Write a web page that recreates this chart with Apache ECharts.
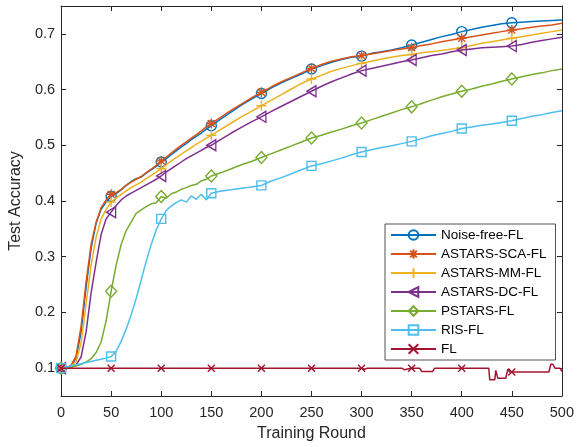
<!DOCTYPE html>
<html>
<head>
<meta charset="utf-8">
<script src="https://cdn.jsdelivr.net/npm/echarts@6/dist/echarts.min.js"></script>
<style>
html,body{margin:0;padding:0;background:#fff;}
#chart{width:577px;height:447px;}
</style>
</head>
<body>
<div id="chart"></div>
<script>
// ---- data ----
const rounds = [0,5,10,15,20,25,30,35,40,45,50,55,60,65,70,75,80,85,90,95,100,105,110,115,120,125,130,135,140,145,150,
  160,170,180,190,200,210,220,230,240,250,260,270,280,290,300,310,320,330,340,350,360,370,380,390,400,410,420,430,440,450,460,470,480,490,500];

const noiseFree = [0.100,0.101,0.104,0.118,0.165,0.245,0.315,0.360,0.385,0.398,0.408,0.413,0.420,0.428,0.435,0.440,0.443,0.450,0.456,0.462,0.470,0.476,0.483,0.490,0.497,0.503,0.510,0.516,0.522,0.529,0.535,
  0.548,0.560,0.572,0.583,0.593,0.603,0.612,0.620,0.628,0.637,0.643,0.649,0.654,0.658,0.660,0.665,0.668,0.671,0.675,0.680,0.685,0.690,0.695,0.699,0.704,0.708,0.712,0.715,0.718,0.720,0.721,0.722,0.723,0.724,0.725];

const astarsSca = [0.100,0.101,0.105,0.122,0.175,0.255,0.322,0.362,0.388,0.402,0.412,0.415,0.421,0.428,0.434,0.439,0.444,0.451,0.457,0.464,0.472,0.479,0.486,0.493,0.500,0.506,0.513,0.519,0.526,0.533,0.539,
  0.551,0.563,0.574,0.585,0.595,0.605,0.614,0.622,0.630,0.638,0.645,0.651,0.655,0.659,0.661,0.664,0.667,0.670,0.673,0.675,0.679,0.682,0.686,0.689,0.692,0.695,0.698,0.701,0.704,0.707,0.709,0.712,0.714,0.716,0.719];

const astarsMm = [0.100,0.100,0.103,0.112,0.145,0.215,0.285,0.335,0.368,0.385,0.398,0.405,0.412,0.418,0.424,0.429,0.434,0.440,0.446,0.452,0.458,0.465,0.472,0.478,0.484,0.490,0.496,0.502,0.507,0.513,0.518,
  0.529,0.540,0.551,0.561,0.571,0.581,0.591,0.601,0.611,0.619,0.626,0.633,0.638,0.643,0.647,0.651,0.655,0.658,0.661,0.663,0.666,0.668,0.670,0.673,0.675,0.679,0.683,0.686,0.689,0.692,0.695,0.698,0.701,0.704,0.707];

const astarsDc = [0.100,0.100,0.101,0.106,0.120,0.165,0.235,0.290,0.340,0.368,0.380,0.392,0.402,0.409,0.414,0.419,0.424,0.429,0.434,0.439,0.445,0.452,0.458,0.464,0.470,0.476,0.481,0.486,0.491,0.496,0.500,
  0.511,0.522,0.532,0.542,0.551,0.561,0.570,0.579,0.588,0.597,0.606,0.614,0.621,0.628,0.634,0.638,0.642,0.646,0.650,0.653,0.657,0.661,0.664,0.668,0.671,0.673,0.675,0.676,0.677,0.678,0.681,0.685,0.688,0.691,0.694];

const pstars = [0.100,0.100,0.102,0.104,0.107,0.111,0.117,0.128,0.147,0.185,0.238,0.285,0.322,0.347,0.362,0.378,0.384,0.390,0.395,0.397,0.408,0.405,0.413,0.416,0.421,0.424,0.428,0.430,0.436,0.439,0.445,
  0.451,0.458,0.465,0.471,0.478,0.485,0.492,0.499,0.506,0.513,0.518,0.524,0.529,0.535,0.540,0.546,0.552,0.558,0.564,0.569,0.575,0.581,0.587,0.592,0.597,0.601,0.606,0.610,0.615,0.619,0.623,0.627,0.630,0.634,0.637];

const risFl = [0.100,0.102,0.104,0.106,0.108,0.110,0.112,0.114,0.116,0.118,0.121,0.130,0.148,0.170,0.196,0.225,0.258,0.292,0.322,0.348,0.368,0.383,0.391,0.397,0.402,0.398,0.409,0.403,0.412,0.402,0.414,
  0.418,0.420,0.423,0.425,0.428,0.436,0.442,0.449,0.456,0.463,0.467,0.472,0.477,0.483,0.488,0.492,0.496,0.499,0.503,0.507,0.512,0.517,0.521,0.525,0.530,0.533,0.536,0.538,0.541,0.544,0.548,0.552,0.555,0.559,0.562];

const flRounds = [0,50,100,150,200,250,300,303,306,340,343,347,350,358,360,371,373,400,427,428,433,434,436,444,446,448,450,487,489,491,493,498,500];
const flAcc    = [0.100,0.100,0.100,0.100,0.100,0.100,0.100,0.098,0.100,0.100,0.097,0.099,0.100,0.100,0.094,0.094,0.100,0.100,0.100,0.079,0.079,0.096,0.082,0.082,0.098,0.093,0.093,0.093,0.107,0.107,0.100,0.100,0.094];

const seriesNames = ['Noise-free-FL','ASTARS-SCA-FL','ASTARS-MM-FL','ASTARS-DC-FL','PSTARS-FL','RIS-FL','FL'];
const xTicks = [0,50,100,150,200,250,300,350,400,450,500];
const yTicks = [0.1,0.2,0.3,0.4,0.5,0.6,0.7];

// ---- styling ----
const colors = ['#0072BD','#D95319','#EDB120','#7E2F8E','#77AC30','#4DBEEE','#A2142F'];
const symbols = [
  'circle',
  'path://M5,0 L5,10 M0,5 L10,5 M1.5,1.5 L8.5,8.5 M8.5,1.5 L1.5,8.5',
  'path://M5,0 L5,10 M0,5 L10,5',
  'path://M0,5 L10,0 L10,10 Z',
  'diamond',
  'rect',
  'path://M0,0 L10,10 M10,0 L0,10'
];
const sizes = [10,10,10,[9,11],[11,12],9,7];
const font = "'Liberation Sans', Arial, Helvetica, sans-serif";
const txt = '#262626';

function pair(xs, ys){ return xs.map((x,i)=>[x, ys[i]]); }
const allData = [noiseFree, astarsSca, astarsMm, astarsDc, pstars, risFl].map(v=>pair(rounds, v));
allData.push(pair(flRounds, flAcc));

const series = seriesNames.map((name, i) => ({
  name: name,
  type: 'line',
  data: allData[i],
  color: colors[i],
  symbol: symbols[i],
  showSymbol: true,
  showAllSymbol: true,
  symbolKeepAspect: false,
  symbolSize: function(val){ return (val[0] % 50 === 0 && val[0] < 500) ? sizes[i] : 0; },
  lineStyle: { color: colors[i], width: 1.5 },
  itemStyle: { color: 'rgba(255,255,255,0)', borderColor: colors[i], borderWidth: 1.4 },
  emphasis: { disabled: true },
  animation: false,
  z: 2 + i
}));

const chart = echarts.init(document.getElementById('chart'), null, {renderer: 'canvas'});
const axisLineStyle = { color: txt, width: 1 };
chart.setOption({
  animation: false,
  backgroundColor: '#fff',
  grid: { left: 59, right: 12, top: 6, bottom: 50, containLabel: false },
  legend: {
    data: seriesNames,
    orient: 'vertical',
    left: 385,
    top: 224,
    padding: [4, 9, 4, 5],
    itemWidth: 45,
    itemHeight: 12,
    itemGap: 5,
    backgroundColor: '#fff',
    borderColor: txt,
    borderWidth: 0.8,
    borderRadius: 0,
    textStyle: { fontFamily: font, fontSize: 13.5, color: '#000', lineHeight: 12 }
  },
  xAxis: [{
    type: 'value', min: 0, max: 500, interval: 50, position: 'bottom',
    name: 'Training Round', nameLocation: 'middle', nameGap: 30,
    nameTextStyle: { fontFamily: font, fontSize: 16, color: txt },
    axisLine: { show: true, lineStyle: axisLineStyle },
    axisTick: { show: true, inside: true, length: 5, lineStyle: axisLineStyle, customValues: xTicks },
    axisLabel: { fontFamily: font, fontSize: 14.5, color: txt, margin: 9, customValues: xTicks },
    splitLine: { show: false }
  }, {
    type: 'value', min: 0, max: 500, interval: 50, position: 'top',
    axisLine: { show: true, onZero: false, lineStyle: axisLineStyle },
    axisTick: { show: true, inside: true, length: 5, lineStyle: axisLineStyle, customValues: xTicks },
    axisLabel: { show: false },
    splitLine: { show: false }
  }],
  yAxis: [{
    type: 'value', min: 0.05, max: 0.75, position: 'left',
    name: 'Test Accuracy', nameLocation: 'middle', nameGap: 34,
    nameTextStyle: { fontFamily: font, fontSize: 16, color: txt },
    axisLine: { show: true, onZero: false, lineStyle: axisLineStyle },
    axisTick: { show: true, inside: true, length: 5, lineStyle: axisLineStyle, customValues: yTicks },
    axisLabel: { fontFamily: font, fontSize: 14.5, color: txt, margin: 6, customValues: yTicks,
      formatter: v => Number(v).toFixed(1) },
    splitLine: { show: false }
  }, {
    type: 'value', min: 0.05, max: 0.75, position: 'right',
    axisLine: { show: true, onZero: false, lineStyle: axisLineStyle },
    axisTick: { show: true, inside: true, length: 5, lineStyle: axisLineStyle, customValues: yTicks },
    axisLabel: { show: false },
    splitLine: { show: false }
  }],
  series: series
});
</script>
</body>
</html>
